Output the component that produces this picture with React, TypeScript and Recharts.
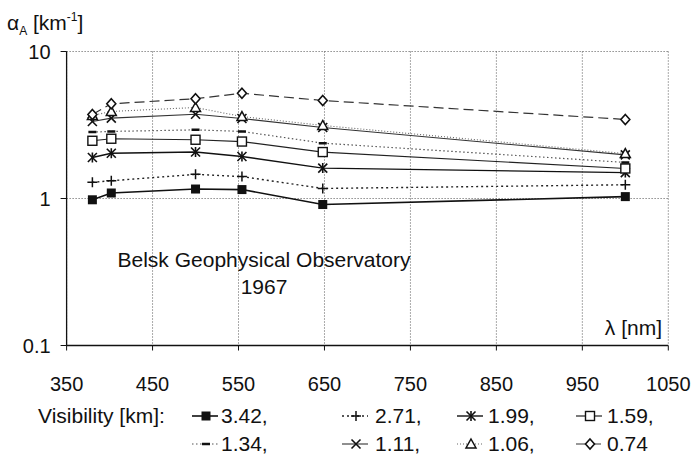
import React from 'react';
import { LineChart, Line, XAxis, YAxis, CartesianGrid, Legend, Customized } from 'recharts';

const wavelengths = [380, 402, 500, 554, 648, 1000];
const vis342 = [0.98, 1.09, 1.16, 1.15, 0.91, 1.03];
const vis271 = [1.29, 1.32, 1.46, 1.41, 1.17, 1.24];
const vis199 = [1.9, 2.03, 2.07, 1.93, 1.61, 1.5];
const vis159 = [2.47, 2.55, 2.51, 2.44, 2.07, 1.6];
const vis134 = [2.83, 2.86, 2.93, 2.86, 2.38, 1.76];
const vis111 = [3.34, 3.52, 3.74, 3.5, 3.04, 1.98];
const vis106 = [3.67, 3.91, 4.16, 3.61, 3.14, 2.02];
const vis074 = [3.73, 4.41, 4.77, 5.2, 4.64, 3.45];

const xTicks = [350, 450, 550, 650, 750, 850, 950, 1050];
const yTicks = [0.1, 1, 10];
const legendTitle = 'Visibility [km]:';
const legendLabels = ['3.42,', '2.71,', '1.99,', '1.59,', '1.34,', '1.11,', '1.06,', '0.74'];
const seriesKeys = ['v342', 'v271', 'v199', 'v159', 'v134', 'v111', 'v106', 'v074'];
const seriesValues = [vis342, vis271, vis199, vis159, vis134, vis111, vis106, vis074];

const rows = wavelengths.map((w, i) => {
  const r: Record<string, number> = { w };
  seriesKeys.forEach((k, j) => {
    r[k] = seriesValues[j][i];
  });
  return r;
});

const FONT = '"Liberation Sans", Arial, sans-serif';

type Shape = 'fsquare' | 'plus' | 'asterisk' | 'osquare' | 'dash' | 'x' | 'triangle' | 'diamond';

const styles: { shape: Shape; stroke: string; width: number; dash?: string }[] = [
  { shape: 'fsquare', stroke: '#111', width: 1.6 },
  { shape: 'plus', stroke: '#222', width: 1.4, dash: '2 3' },
  { shape: 'asterisk', stroke: '#111', width: 1.4 },
  { shape: 'osquare', stroke: '#222', width: 1.2 },
  { shape: 'dash', stroke: '#555', width: 1.2, dash: '1.5 2.5' },
  { shape: 'x', stroke: '#333', width: 1.1 },
  { shape: 'triangle', stroke: '#666', width: 1.1, dash: '1 2' },
  { shape: 'diamond', stroke: '#333', width: 1.2, dash: '10 5' },
];

function Marker({ cx, cy, shape }: { cx: number; cy: number; shape: Shape }) {
  const c = '#111';
  switch (shape) {
    case 'fsquare':
      return <rect x={cx - 4.5} y={cy - 4.5} width={9} height={9} fill={c} />;
    case 'plus':
      return (
        <g stroke={c} strokeWidth={1.5}>
          <line x1={cx - 5} x2={cx + 5} y1={cy} y2={cy} />
          <line x1={cx} x2={cx} y1={cy - 5} y2={cy + 5} />
        </g>
      );
    case 'asterisk':
      return (
        <g stroke={c} strokeWidth={1.6}>
          <line x1={cx - 4.5} x2={cx + 4.5} y1={cy - 4.5} y2={cy + 4.5} />
          <line x1={cx - 4.5} x2={cx + 4.5} y1={cy + 4.5} y2={cy - 4.5} />
          <line x1={cx} x2={cx} y1={cy - 5} y2={cy + 5} />
        </g>
      );
    case 'osquare':
      return <rect x={cx - 4.5} y={cy - 4.5} width={9} height={9} fill="#fff" stroke={c} strokeWidth={1.4} />;
    case 'dash':
      return <line x1={cx - 4} x2={cx + 4} y1={cy} y2={cy} stroke={c} strokeWidth={2.5} />;
    case 'x':
      return (
        <g stroke={c} strokeWidth={1.6}>
          <line x1={cx - 4.5} x2={cx + 4.5} y1={cy - 4.5} y2={cy + 4.5} />
          <line x1={cx - 4.5} x2={cx + 4.5} y1={cy + 4.5} y2={cy - 4.5} />
        </g>
      );
    case 'triangle':
      return (
        <polygon
          points={`${cx},${cy - 5} ${cx + 5},${cy + 4} ${cx - 5},${cy + 4}`}
          fill="#fff"
          stroke={c}
          strokeWidth={1.5}
        />
      );
    case 'diamond':
    default:
      return (
        <polygon
          points={`${cx},${cy - 5} ${cx + 4.5},${cy} ${cx},${cy + 5} ${cx - 4.5},${cy}`}
          fill="#fff"
          stroke={c}
          strokeWidth={1.6}
        />
      );
  }
}

const makeDot = (shape: Shape) => (props: any) => {
  const { cx, cy, index } = props;
  if (cx == null || cy == null) return <g key={`e-${index}`} />;
  return (
    <g key={`d-${shape}-${index}`}>
      <Marker cx={cx} cy={cy} shape={shape} />
    </g>
  );
};

const XTick = (props: any) => {
  const { x, y, payload } = props;
  return (
    <text x={x} y={y + 38} textAnchor="middle" fontFamily={FONT} fontSize={20} fill="#111">
      {payload.value}
    </text>
  );
};

const YTick = (props: any) => {
  const { x, y, payload } = props;
  return (
    <text x={x} y={y + 7} textAnchor="end" fontFamily={FONT} fontSize={20} fill="#111">
      {String(payload.value)}
    </text>
  );
};

const legendPos = [
  { sx: 192, tx: 221, row: 0 },
  { sx: 342, tx: 375, row: 0 },
  { sx: 457, tx: 488, row: 0 },
  { sx: 576, tx: 607, row: 0 },
  { sx: 192, tx: 221, row: 1 },
  { sx: 342, tx: 375, row: 1 },
  { sx: 457, tx: 488, row: 1 },
  { sx: 576, tx: 607, row: 1 },
];

const LegendContent = () => (
  <svg width={692} height={56} style={{ display: 'block' }}>
    <text x={38} y={22} fontFamily={FONT} fontSize={21} fill="#111">
      {legendTitle}
    </text>
    {legendLabels.map((lab, i) => {
      const p = legendPos[i];
      const st = styles[i];
      const yy = 15 + p.row * 28;
      return (
        <g key={lab}>
          <line
            x1={p.sx}
            x2={p.sx + 26}
            y1={yy}
            y2={yy}
            stroke={st.stroke}
            strokeWidth={st.width}
            strokeDasharray={st.dash}
          />
          <Marker cx={p.sx + 14} cy={yy} shape={st.shape} />
          <text x={p.tx} y={yy + 7} fontFamily={FONT} fontSize={21} fill="#111">
            {lab}
          </text>
        </g>
      );
    })}
  </svg>
);

const Annotations = () => (
  <g fontFamily={FONT} fill="#111">
    <text x={7} y={30} fontSize={21}>
      <tspan>α</tspan>
      <tspan fontSize={12} dy={5}>A</tspan>
      <tspan fontSize={21} dy={-5}> [km</tspan>
      <tspan fontSize={12} dy={-9}>-1</tspan>
      <tspan fontSize={21} dy={9}>]</tspan>
    </text>
    <text x={264} y={267} fontSize={21} textAnchor="middle">
      Belsk Geophysical Observatory
    </text>
    <text x={264} y={294} fontSize={21} textAnchor="middle">
      1967
    </text>
    <text x={662} y={335} fontSize={21} textAnchor="end">
      λ [nm]
    </text>
  </g>
);

export default function App() {
  return (
    <div style={{ position: 'absolute', left: 0, top: 0, width: 692, height: 457, background: '#fff' }}>
      <LineChart
        width={692}
        height={457}
        data={rows}
        margin={{ top: 51.5, right: 23.7, left: 6.6, bottom: 81.5 }}
      >
        <CartesianGrid stroke="#555" strokeDasharray="1 2" horizontalValues={yTicks} verticalValues={xTicks} />
        <XAxis
          dataKey="w"
          type="number"
          domain={[350, 1050]}
          ticks={xTicks}
          interval={0}
          height={30}
          axisLine={{ stroke: '#111', strokeWidth: 1.3 }}
          tickLine={{ stroke: '#111' }}
          tickSize={5}
          tick={<XTick />}
        />
        <YAxis
          scale="log"
          domain={[0.1, 10]}
          ticks={yTicks}
          allowDataOverflow
          width={60}
          axisLine={{ stroke: '#111', strokeWidth: 1.3 }}
          tickLine={{ stroke: '#111' }}
          tickSize={6}
          tickMargin={10}
          tick={<YTick />}
        />
        {seriesKeys.map((k, i) => (
          <Line
            key={k}
            dataKey={k}
            name={legendLabels[i]}
            type="linear"
            stroke={styles[i].stroke}
            strokeWidth={styles[i].width}
            strokeDasharray={styles[i].dash}
            dot={makeDot(styles[i].shape)}
            activeDot={false}
            isAnimationActive={false}
          />
        ))}
        <Legend
          layout="horizontal"
          verticalAlign="middle"
          align="center"
          content={<LegendContent />}
          wrapperStyle={{ position: 'absolute', top: 401, left: 0, width: 692, height: 56 }}
        />
        <Customized component={Annotations} />
      </LineChart>
    </div>
  );
}
